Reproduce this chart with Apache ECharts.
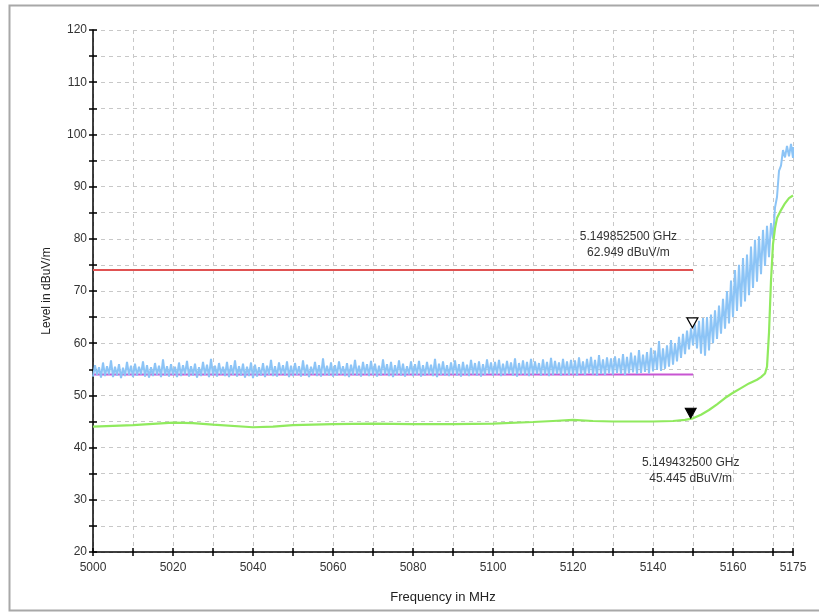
<!DOCTYPE html>
<html>
<head>
<meta charset="utf-8">
<script src="https://cdn.jsdelivr.net/npm/echarts@6/dist/echarts.min.js"></script>
<style>
html, body { margin: 0; padding: 0; background: #fff; }
#chart { width: 819px; height: 612px; }
</style>
</head>
<body>
<div id="chart"></div>
<script>
// axis ticks and labels
var xTicks = [5000, 5010, 5020, 5030, 5040, 5050, 5060, 5070, 5080, 5090, 5100, 5110, 5120, 5130, 5140, 5150, 5160, 5170, 5175];
var xLabels = [5000, 5020, 5040, 5060, 5080, 5100, 5120, 5140, 5160, 5175];

// blue trace: min / max per 1 MHz bin, 5000..5175
var blueStart = 5000;
var blueLow = [
	53.6, 53.9, 53.4, 53.7, 54.0, 53.5, 53.8, 53.3, 53.7, 53.9,
	53.5, 53.8, 54.0, 53.6, 53.4, 53.7, 53.9, 53.5, 53.8, 53.6,
	53.9, 53.5, 53.7, 54.0, 53.6, 53.8, 53.4, 53.7, 53.9, 53.5,
	53.8, 53.6, 54.0, 53.7, 53.5, 53.9, 53.6, 53.8, 53.4, 53.7,
	53.3, 53.6, 53.8, 53.5, 53.9, 53.7, 53.6, 54.0, 53.8, 53.5,
	53.7, 53.9, 53.6, 53.8, 53.5, 54.0, 53.7, 53.6, 53.9, 53.8,
	53.6, 53.8, 54.0, 53.7, 53.5, 53.9, 53.8, 53.6, 54.0, 53.7,
	53.9, 53.6, 53.8, 54.0, 53.7, 53.5, 53.9, 53.8, 53.6, 54.0,
	53.7, 53.9, 53.6, 53.8, 54.0, 53.7, 53.5, 53.9, 53.8, 53.7,
	54.0, 53.8, 53.6, 53.9, 53.7, 54.0, 53.8, 53.6, 53.9, 54.1,
	53.8, 54.0, 53.7, 53.9, 54.1, 53.8, 53.6, 54.0, 53.9, 53.7,
	53.9, 54.1, 53.8, 54.0, 53.7, 53.9, 54.1, 53.8, 54.0, 53.9,
	54.0, 53.8, 54.1, 53.9, 54.2, 54.0, 53.8, 54.1, 53.9, 54.2,
	54.0, 54.3, 54.1, 53.9, 54.2, 54.4, 54.1, 54.3, 54.5, 54.2,
	54.6, 54.9, 54.7, 55.1, 55.5, 55.9, 56.5, 57.2, 57.9, 58.8,
	59.6, 59.0, 58.0, 57.6, 58.6, 60.0, 60.8, 61.8, 62.8, 63.8,
	65.0, 66.2, 67.0, 68.0, 69.2, 70.6, 71.8, 73.2, 74.8, 76.5,
	80.0, 88.0, 94.0, 95.6, 95.8, 95.5
];
var blueHigh = [
	55.8, 55.4, 56.3, 55.6, 56.7, 55.5, 56.0, 55.3, 56.4, 55.7,
	56.1, 55.5, 56.5, 55.8, 55.4, 56.2, 55.7, 56.9, 55.6, 56.0,
	55.5, 56.3, 55.8, 56.6, 55.6, 56.1, 55.4, 56.4, 55.9, 57.0,
	55.7, 56.2, 55.5, 56.4, 55.8, 56.7, 55.6, 56.1, 55.5, 56.3,
	55.9, 55.4, 56.2, 55.7, 56.8, 55.6, 56.3, 55.8, 56.5, 55.7,
	56.2, 55.6, 56.7, 55.9, 55.5, 56.4, 55.8, 57.1, 55.7, 56.3,
	55.8, 56.5, 55.6, 56.2, 55.9, 56.8, 55.7, 56.4, 56.0, 56.6,
	56.1, 55.7, 56.9, 56.0, 56.4, 55.8, 56.7, 56.1, 55.6, 56.5,
	56.0, 56.6, 55.8, 56.4, 55.9, 57.0, 56.1, 56.5, 55.8, 56.3,
	56.7, 56.0, 56.4, 55.9, 56.8, 56.2, 56.5, 56.0, 56.9, 56.3,
	56.4, 56.8, 56.1, 56.6, 56.3, 57.1, 56.2, 56.7, 56.4, 57.0,
	56.5, 56.2, 56.9, 56.4, 57.2, 56.6, 56.3, 57.0, 56.5, 56.8,
	56.7, 57.3, 56.5, 57.0, 57.4, 56.8, 57.7, 56.9, 57.3, 57.1,
	57.5, 57.1, 57.9, 57.4, 58.2, 57.6, 58.7, 57.8, 58.3, 59.1,
	58.6, 60.4, 59.0, 59.6, 60.6, 60.0, 61.2, 61.8, 62.4, 62.9,
	63.6, 64.3, 64.8, 65.0, 65.5, 66.3, 67.2, 68.5, 70.0, 72.0,
	74.0, 75.0, 76.3, 77.0, 78.5, 79.8, 80.5, 81.7, 82.5, 83.0,
	86.0, 93.0, 97.0, 97.8, 98.2, 97.6
];

// green trace
var greenFreq = [5000, 5010, 5020, 5025, 5030, 5040, 5045, 5050, 5060, 5070, 5080, 5090, 5100, 5110, 5115, 5120, 5125, 5130, 5140, 5145, 5148, 5150, 5152, 5154, 5156, 5158, 5160, 5162, 5164, 5166, 5167, 5168, 5168.5, 5169, 5169.5, 5170, 5170.5, 5171, 5172, 5173, 5174, 5175];
var greenLevel = [44.0, 44.3, 44.8, 44.7, 44.4, 43.9, 44.0, 44.3, 44.5, 44.6, 44.5, 44.5, 44.6, 44.9, 45.1, 45.3, 45.1, 45.0, 45.0, 45.1, 45.3, 45.6, 46.3, 47.2, 48.3, 49.5, 50.5, 51.4, 52.3, 53.0, 53.5, 54.2, 55.5, 62.0, 72.0, 79.0, 82.0, 84.0, 85.5, 86.8, 87.8, 88.3];

// limit lines
var limitFreq = [5000, 5150];
var redLimit = [74, 74];
var magentaLimit = [54, 54];

// markers
var marker1 = [5149.8525, 62.949];
var marker2 = [5149.4325, 45.445];

function pairs(xs, ys) {
	var out = [];
	for (var i = 0; i < xs.length; i++) out.push([xs[i], ys[i]]);
	return out;
}

var blueData = [];
for (var i = 0; i < blueLow.length; i++) {
	var f = blueStart + i;
	blueData.push([f, blueLow[i]]);
	if (i < blueLow.length - 1) blueData.push([f + 0.5, blueHigh[i]]);
	else blueData.push([f, blueHigh[i]]);
}

var font = "'Liberation Sans', Arial, sans-serif";
var txt = "#333";
var gridDash = { color: "#c8c8c8", type: [4, 4], width: 1 };
var tickStyle = { color: "#000", width: 1.5 };
var gridRect = { left: 93, right: 26, top: 30, bottom: 60 };

var myChart = echarts.init(document.getElementById("chart"));
myChart.setOption({
	animation: false,
	backgroundColor: "#fff",
	textStyle: { fontFamily: font },
	grid: [gridRect, gridRect],
	graphic: [{
		type: "rect",
		left: 7, top: 3,
		shape: { width: 830, height: 605 },
		style: { fill: "none", stroke: "#a8a8a8", lineWidth: 2 },
		silent: true
	}],
	xAxis: [{
		type: "value",
		gridIndex: 0,
		min: 5000,
		max: 5175,
		name: "Frequency in MHz",
		nameLocation: "middle",
		nameGap: 39,
		nameTextStyle: { color: "#222", fontSize: 13, fontFamily: font },
		axisLine: { show: true, onZero: false, lineStyle: tickStyle },
		axisTick: { show: true, length: 4, customValues: xTicks, lineStyle: tickStyle },
		axisLabel: {
			customValues: xLabels, margin: 10, color: txt, fontSize: 12, fontFamily: font,
			formatter: function (v) { return String(v); }
		},
		splitLine: { show: true, lineStyle: gridDash }
	}, {
		// second copy only for the inner half of the crossing ticks
		type: "value",
		gridIndex: 1,
		min: 5000,
		max: 5175,
		position: "bottom",
		axisLine: { show: false, onZero: false },
		axisTick: { show: true, inside: true, length: 4, customValues: xTicks, lineStyle: tickStyle },
		axisLabel: { show: false },
		splitLine: { show: false }
	}],
	yAxis: [{
		type: "value",
		gridIndex: 0,
		min: 20,
		max: 120,
		interval: 5,
		name: "Level in dBuV/m",
		nameLocation: "middle",
		nameGap: 40,
		nameTextStyle: { color: "#222", fontSize: 12, fontFamily: font },
		axisLine: { show: true, onZero: false, lineStyle: tickStyle },
		axisTick: { show: true, length: 4, lineStyle: tickStyle },
		axisLabel: {
			margin: 6, color: txt, fontSize: 12, fontFamily: font,
			formatter: function (v) { return v % 10 === 0 ? String(v) : ""; }
		},
		splitLine: { show: true, lineStyle: gridDash }
	}, {
		type: "value",
		gridIndex: 1,
		min: 20,
		max: 120,
		interval: 5,
		position: "left",
		axisLine: { show: false, onZero: false },
		axisTick: { show: true, inside: true, length: 4, lineStyle: tickStyle },
		axisLabel: { show: false },
		splitLine: { show: false }
	}],
	series: [{
		name: "limit avg",
		type: "line",
		data: pairs(limitFreq, magentaLimit),
		symbol: "none",
		lineStyle: { color: "#c855d2", width: 2 },
		z: 2
	}, {
		name: "peak",
		type: "line",
		data: blueData,
		symbol: "none",
		lineStyle: { color: "#8cc4f6", width: 2 },
		z: 3,
		markPoint: {
			symbol: "triangle",
			symbolRotate: 180,
			symbolSize: [11, 10],
			symbolOffset: [0, -5],
			itemStyle: { color: "#fff", borderColor: "#000", borderWidth: 1.2 },
			label: {
				show: true,
				position: "inside",
				offset: [-64, -78],
				color: txt,
				fontSize: 12,
				lineHeight: 16,
				fontFamily: font,
				formatter: "5.149852500 GHz\n62.949 dBuV/m"
			},
			data: [{ coord: marker1 }]
		}
	}, {
		name: "limit peak",
		type: "line",
		data: pairs(limitFreq, redLimit),
		symbol: "none",
		lineStyle: { color: "#e05252", width: 2 },
		z: 4
	}, {
		name: "average",
		type: "line",
		data: pairs(greenFreq, greenLevel),
		symbol: "none",
		lineStyle: { color: "#90ea5e", width: 2.2 },
		z: 4,
		markPoint: {
			symbol: "triangle",
			symbolRotate: 180,
			symbolSize: [11, 10],
			symbolOffset: [0, -6],
			itemStyle: { color: "#000", borderColor: "#000", borderWidth: 1 },
			label: {
				show: true,
				position: "inside",
				offset: [0, 58],
				color: txt,
				fontSize: 12,
				lineHeight: 16,
				fontFamily: font,
				formatter: "5.149432500 GHz\n45.445 dBuV/m"
			},
			data: [{ coord: marker2 }]
		}
	}, {
		// empty series so the tick-only axes of grid 1 are drawn
		name: "ticks",
		type: "line",
		xAxisIndex: 1,
		yAxisIndex: 1,
		data: [],
		silent: true
	}]
});
</script>
</body>
</html>
